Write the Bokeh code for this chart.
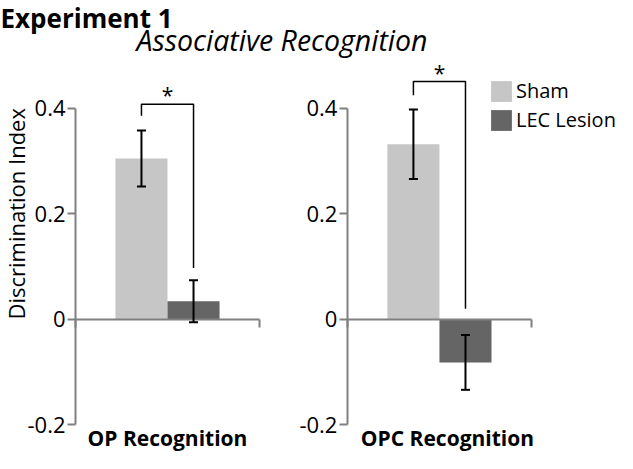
import math
from bokeh.plotting import figure
from bokeh.models import (Range1d, LinearAxis, FixedTicker, Whisker, TeeHead,
                          Legend, LegendItem, ColumnDataSource)
from bokeh.core.properties import value
from bokeh.embed import file_html
from bokeh.resources import INLINE

# ---------------- data ----------------
figure_title = "Experiment 1"
panel_title = "Associative Recognition"
panels = ["OP Recognition", "OPC Recognition"]
groups = ["Sham", "LEC Lesion"]
sham_mean = [0.305, 0.332]
sham_sem = [0.053, 0.066]
lec_mean = [0.034, -0.082]
lec_sem = [0.040, 0.052]
y_ticks = [-0.2, 0, 0.2, 0.4]
y_tick_labels = ["-0.2", "0", "0.2", "0.4"]
y_label = "Discrimination Index"
sig_marks = ["*", "*"]
bracket_sham_end = [0.386, 0.425]
bracket_top = [0.408, 0.451]
bracket_lec_end = [0.097, 0.020]

# ---------------- layout ----------------
W, H = 617, 453
X0, X1 = -0.4076, 2.9457
Y0, Y1 = -0.2548, 0.6047
panel_step = 1.478
bar_w = 0.283
FONT = "Open Sans"
AXIS_COLOR = "#808080"
SHAM_COLOR = "#c6c6c6"
LEC_COLOR = "#656565"
BASE_SHIFT = -9  # keeps alphabetic baselines where they are wanted

starts = [i * panel_step for i in range(len(panels))]
sham_x = [s + 0.5 - bar_w / 2 for s in starts]
lec_x = [s + 0.5 + bar_w / 2 for s in starts]

p = figure(width=W, height=H, x_range=Range1d(X0, X1), y_range=Range1d(Y0, Y1),
           x_axis_location=None, y_axis_location=None, toolbar_location=None,
           output_backend="svg", min_border=0, outline_line_color=None)
p.title.visible = False
p.grid.visible = False
p.background_fill_color = "white"
p.border_fill_color = "white"

# bars
r_sham = p.vbar(x=sham_x, top=sham_mean, bottom=0, width=bar_w,
                fill_color=SHAM_COLOR, line_color=None)
r_lec = p.vbar(x=lec_x, top=lec_mean, bottom=0, width=bar_w,
               fill_color=LEC_COLOR, line_color=None)

# axes
for i, s in enumerate(starts):
    yax = LinearAxis(fixed_location=s, bounds=(y_ticks[0], y_ticks[-1]),
                     ticker=FixedTicker(ticks=y_ticks),
                     major_label_overrides=dict(zip(y_ticks, y_tick_labels)))
    xax = LinearAxis(fixed_location=0, bounds=(s, s + 1),
                     ticker=FixedTicker(ticks=[s, s + 1]),
                     major_label_overrides={s: "", s + 1: ""})
    for ax in (yax, xax):
        ax.axis_line_color = AXIS_COLOR
        ax.axis_line_width = 2
        ax.major_tick_line_color = AXIS_COLOR
        ax.major_tick_line_width = 2
        ax.major_tick_out = 8
        ax.major_tick_in = 0
        ax.minor_tick_line_color = None
        ax.major_label_standoff = 2
        ax.major_label_text_font = FONT
        ax.major_label_text_color = "black"
        ax.major_label_text_font_size = "22px"
    p.add_layout(yax, "left")
    p.add_layout(xax, "below")

# error bars
for xs, m, e in ((sham_x, sham_mean, sham_sem), (lec_x, lec_mean, lec_sem)):
    src = ColumnDataSource(dict(x=xs, lo=[a - b for a, b in zip(m, e)],
                                hi=[a + b for a, b in zip(m, e)]))
    w = Whisker(source=src, base="x", lower="lo", upper="hi", level="annotation",
                line_color="black", line_width=2,
                upper_head=TeeHead(size=9, line_width=2, line_color="black"),
                lower_head=TeeHead(size=9, line_width=2, line_color="black"))
    p.add_layout(w)

# significance brackets
bx = [[a, a, b, b] for a, b in zip(sham_x, lec_x)]
by = [[l, t, t, r] for l, t, r in zip(bracket_sham_end, bracket_top, bracket_lec_end)]
p.multi_line(xs=bx, ys=by, line_color="black", line_width=1.5)
p.text(x=[(a + b) / 2 for a, b in zip(sham_x, lec_x)], y=bracket_top, text=sig_marks,
       text_font=value(FONT), text_font_size="21px", text_align="center",
       text_baseline="alphabetic", y_offset=-9, text_color="black")

# titles
p.text(x=[X0], y=[0.5535], text=[figure_title], text_font=value(FONT),
       text_font_size="26px", text_font_style="bold", text_align="left",
       text_baseline="alphabetic", y_offset=BASE_SHIFT, text_color="black")
p.text(x=[1.1223], y=[0.5118], text=[panel_title], text_font=value(FONT),
       text_font_size="28.5px", text_font_style="italic", text_align="center",
       text_baseline="alphabetic", y_offset=BASE_SHIFT, text_color="black")

# category labels
p.text(x=[s + 0.5 for s in starts], y=[-0.2416] * len(panels), text=panels,
       x_offset=[0, 8], y_offset=BASE_SHIFT, text_font=value(FONT),
       text_font_size="21px", text_font_style="bold", text_align="center",
       text_baseline="alphabetic", text_color="black")

# y label
p.text(x=[X0], y=[0.2], text=[y_label], angle=math.pi / 2, x_offset=0,
       text_font=value(FONT), text_font_size="22px", text_align="center",
       text_baseline="top", text_color="black")

# legend
legend = Legend(items=[LegendItem(label=groups[0], renderers=[r_sham]),
                       LegendItem(label=groups[1], renderers=[r_lec])],
                location=(488, 320), padding=0, margin=0, spacing=2,
                glyph_width=26, glyph_height=26, label_standoff=2,
                label_text_font=FONT, label_text_font_size="20px",
                label_text_color="black", border_line_color=None,
                background_fill_alpha=0)
p.add_layout(legend)

open("out.html", "w").write(file_html(p, INLINE))
